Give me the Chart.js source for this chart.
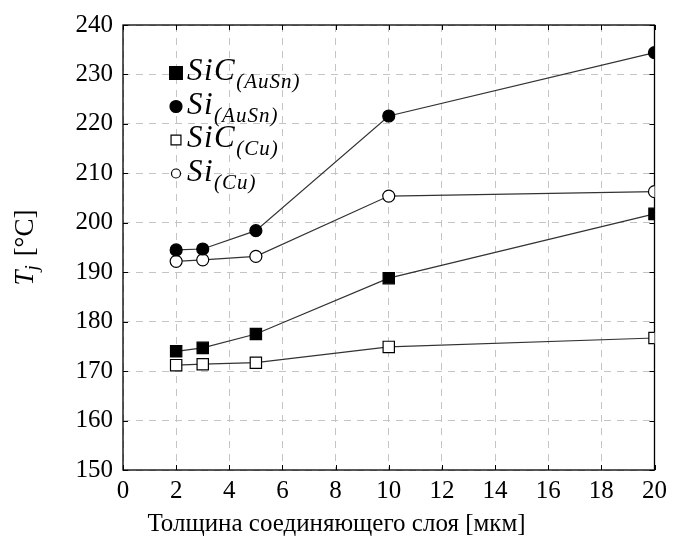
<!DOCTYPE html>
<html>
<head>
<meta charset="utf-8">
<script src="https://cdn.jsdelivr.net/npm/chart.js@4.4.0/dist/chart.umd.min.js"></script>
<style>
html, body { margin: 0; padding: 0; background: #fff; }
</style>
</head>
<body>
<canvas id="chart" width="673" height="545"></canvas>
<script>
// толщина слоя, мкм
var thickness = [2, 3, 5, 10, 20];
var sicAuSn = [174.0, 174.7, 177.5, 188.8, 201.8];
var siAuSn  = [194.5, 194.7, 198.4, 221.6, 234.4];
var sicCu   = [171.2, 171.4, 171.7, 174.9, 176.7];
var siCu    = [192.2, 192.5, 193.2, 205.4, 206.3];

var seriesMain = ["SiC", "Si", "SiC", "Si"];
var seriesSub  = ["(AuSn)", "(AuSn)", "(Cu)", "(Cu)"];

var xTitle = "Толщина соединяющего слоя [мкм]";
var serif = "Liberation Serif";

Chart.defaults.font.family = serif;
Chart.defaults.color = "#000";

function toPoints(ys) {
    return thickness.map(function (x, i) { return { x: x, y: ys[i] }; });
}

function makeSet(i, ys, style, filled) {
    return {
        label: seriesMain[i] + seriesSub[i],
        data: toPoints(ys),
        borderColor: "#333",
        borderWidth: 1.2,
        pointStyle: style,
        pointRadius: style === "rect" ? 8 : 6,
        pointHoverRadius: style === "rect" ? 8 : 6,
        pointBackgroundColor: filled ? "#000" : "#fff",
        pointBorderColor: "#000",
        pointBorderWidth: 1.2
    };
}

var sets = [
    makeSet(0, sicAuSn, "rect", true),
    makeSet(1, siAuSn, "circle", true),
    makeSet(2, sicCu, "rect", false),
    makeSet(3, siCu, "circle", false)
];
// размеры значков в легенде (открытые — мельче)
var legendRadius = [9, 6, 7, 4.5];

// рамка, внутренние засечки, подписи осей и легенда
var decor = {
    id: "decor",
    beforeDatasetsDraw: function (chart) {
        var ctx = chart.ctx, a = chart.chartArea;
        var xs = chart.scales.x, ys = chart.scales.y;
        ctx.save();
        ctx.strokeStyle = "#000";
        ctx.lineWidth = 1;
        ctx.beginPath();
        xs.ticks.forEach(function (t) {
            var px = Math.round(xs.getPixelForValue(t.value)) + 0.5;
            ctx.moveTo(px, a.bottom); ctx.lineTo(px, a.bottom - 5);
            ctx.moveTo(px, a.top); ctx.lineTo(px, a.top + 5);
        });
        ys.ticks.forEach(function (t) {
            var py = Math.round(ys.getPixelForValue(t.value)) + 0.5;
            ctx.moveTo(a.left, py); ctx.lineTo(a.left + 5, py);
            ctx.moveTo(a.right, py); ctx.lineTo(a.right - 5, py);
        });
        ctx.stroke();
        ctx.lineWidth = 1.3;
        ctx.strokeRect(a.left, a.top, a.right - a.left, a.bottom - a.top);
        ctx.restore();
    },
    afterDraw: function (chart) {
        var ctx = chart.ctx, a = chart.chartArea;
        ctx.save();
        ctx.fillStyle = "#000";
        // подпись оси X
        ctx.font = "25px " + serif;
        ctx.textAlign = "center";
        ctx.textBaseline = "middle";
        ctx.fillText(xTitle, chart.width / 2, 524);
        ctx.textAlign = "left";
        // подпись оси Y
        ctx.translate(26, (a.top + a.bottom) / 2);
        ctx.rotate(-Math.PI / 2);
        var big = "italic 27px " + serif, sub = "italic 19px " + serif, rom = "27px " + serif;
        ctx.font = big; var w1 = ctx.measureText("T").width;
        ctx.font = sub; var w2 = ctx.measureText("j").width + 2;
        ctx.font = rom; var w3 = ctx.measureText(" [°C]").width;
        var x0 = -(w1 + w2 + w3) / 2;
        ctx.font = big; ctx.fillText("T", x0, 0);
        ctx.font = sub; ctx.fillText("j", x0 + w1, 7);
        ctx.font = rom; ctx.fillText(" [°C]", x0 + w1 + w2, 0);
        ctx.restore();

        // легенда
        ctx.save();
        var lx = a.left + 53, ly = a.top + 48, step = 33.5;
        sets.forEach(function (ds, i) {
            var y = ly + i * step;
            ctx.fillStyle = ds.pointBackgroundColor;
            ctx.strokeStyle = "#000";
            ctx.lineWidth = 1.2;
            Chart.helpers.drawPoint(ctx, {
                pointStyle: ds.pointStyle,
                radius: legendRadius[i],
                rotation: 0,
                borderWidth: 1.2
            }, lx, y);
            ctx.fillStyle = "#000";
            ctx.textBaseline = "alphabetic";
            ctx.font = "italic 31px " + serif;
            ctx.letterSpacing = "1.5px";
            var tx = lx + 11;
            ctx.fillText(seriesMain[i], tx, y + 7);
            tx += ctx.measureText(seriesMain[i]).width;
            ctx.font = "italic 21px " + serif;
            ctx.letterSpacing = "1px";
            ctx.fillText(seriesSub[i], tx, y + 15);
            ctx.letterSpacing = "0px";
        });
        ctx.restore();
    }
};

var config = {
    type: "line",
    data: { datasets: sets },
    options: {
        responsive: false,
        animation: false,
        layout: { padding: { top: 24, right: 13, left: 0, bottom: 0 } },
        plugins: {
            legend: { display: false },
            tooltip: { enabled: false },
            title: { display: false }
        },
        scales: {
            x: {
                type: "linear",
                min: 0,
                max: 20,
                ticks: {
                    stepSize: 2,
                    color: "#000",
                    padding: 6,
                    maxRotation: 0,
                    font: { family: serif, size: 25 }
                },
                grid: { color: "#c4c4c4", lineWidth: 1, drawTicks: false },
                border: { display: false, dash: [7, 6] },
                afterFit: function (s) { s.height = 75; }
            },
            y: {
                min: 150,
                max: 240,
                ticks: {
                    stepSize: 10,
                    color: "#000",
                    padding: 10,
                    font: { family: serif, size: 25 }
                },
                grid: { color: "#c4c4c4", lineWidth: 1, drawTicks: false },
                border: { display: false, dash: [7, 6] },
                afterFit: function (s) { s.width = 123; }
            }
        }
    },
    plugins: [decor]
};

var chart = new Chart(document.getElementById("chart"), config);
</script>
</body>
</html>
